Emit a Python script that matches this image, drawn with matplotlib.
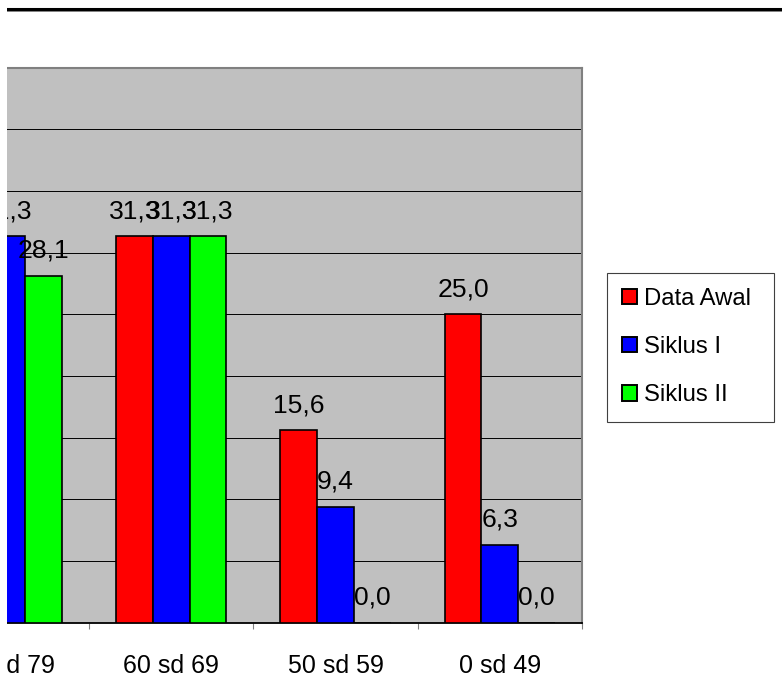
import matplotlib
matplotlib.use("Agg")
import matplotlib.pyplot as plt
from matplotlib.lines import Line2D
from matplotlib.patches import Patch, Rectangle
import numpy as np

plt.rcParams['font.family'] = ['Liberation Sans', 'DejaVu Sans']

# score ranges and percentage of students per cycle
categories = ["70 sd 79", "60 sd 69", "50 sd 59", "0 sd 49"]
data_awal = [28.1, 31.3, 15.6, 25.0]
siklus_1 = [31.3, 31.3, 9.4, 6.3]
siklus_2 = [28.1, 31.3, 0.0, 0.0]
series_names = ["Data Awal", "Siklus I", "Siklus II"]
series_colors = ["#FF0000", "#0000FF", "#00FF00"]

W, H = 782, 680
fig = plt.figure(figsize=(W / 100, H / 100), dpi=100)

# plot area (left part of the chart is cut off by the frame)
left_px, right_px, top_px, bottom_px = 7, 582, 67.5, 622.5
ax = fig.add_axes([left_px / W, 1 - bottom_px / H,
                   (right_px - left_px) / W, (bottom_px - top_px) / H])
ax.set_facecolor("#C0C0C0")

x = np.arange(len(categories))
bw = 0.2236
for i, (vals, name, col) in enumerate(zip([data_awal, siklus_1, siklus_2],
                                          series_names, series_colors)):
    pos = x + (i - 1) * bw
    ax.bar(pos, vals, width=bw, color=col, edgecolor="black",
           linewidth=1.2, zorder=3)
    for px_, v in zip(pos, vals):
        ax.annotate(f"{v:.1f}".replace(".", ","), (px_, v),
                    xytext=(0, 13), textcoords="offset points",
                    ha="center", va="baseline", fontsize=19.07, zorder=5)

ax.set_xlim(0.006, 3.5)
ax.set_ylim(0, 45)
ax.set_yticks(np.arange(5, 45, 5))
ax.yaxis.grid(True, color="black", linewidth=0.7, zorder=1)
ax.tick_params(axis="y", left=False, labelleft=False)

ax.set_xticks(x)
ax.set_xticklabels(categories, fontsize=18)
ax.tick_params(axis="x", which="major", length=0, pad=23)
ax.set_xticks(x + 0.5, minor=True)
ax.tick_params(axis="x", which="minor", length=4.5, width=0.8,
               color="#808080", direction="out")

ax.spines["left"].set_visible(False)
for s in ("top", "right"):
    ax.spines[s].set_color("#808080")
    ax.spines[s].set_linewidth(1.5)
ax.spines["bottom"].set_color("black")
ax.spines["bottom"].set_linewidth(1.3)

handles = [Patch(facecolor=c, edgecolor="black", linewidth=1.4)
           for c in series_colors]
leg_h = 0.01
leg = fig.legend(handles, series_names, loc="upper left",
                 bbox_to_anchor=(607 / W, 1 - 273 / H - leg_h, 167 / W, leg_h),
                 mode="expand", fontsize=17.2, handlelength=0.6,
                 handleheight=0.6, handletextpad=0.3, labelspacing=1.09,
                 borderpad=0.64, borderaxespad=0, fancybox=False,
                 frameon=True, edgecolor="#404040", framealpha=1)
leg.get_frame().set_linewidth(0.8)

# rule at the top of the page
fig.add_artist(Line2D([7 / W, 1], [1 - 9 / H, 1 - 9 / H], color="black",
                      linewidth=2.2))
fig.add_artist(Line2D([7 / W, 1], [1 - 11 / H, 1 - 11 / H],
                      color="#808080", linewidth=0.7))

# white frame margin on the left
fig.add_artist(Rectangle((0, 0), 7 / W, 1, transform=fig.transFigure,
                         facecolor="white", edgecolor="none", zorder=10))

fig.savefig("out.png", dpi=100)
